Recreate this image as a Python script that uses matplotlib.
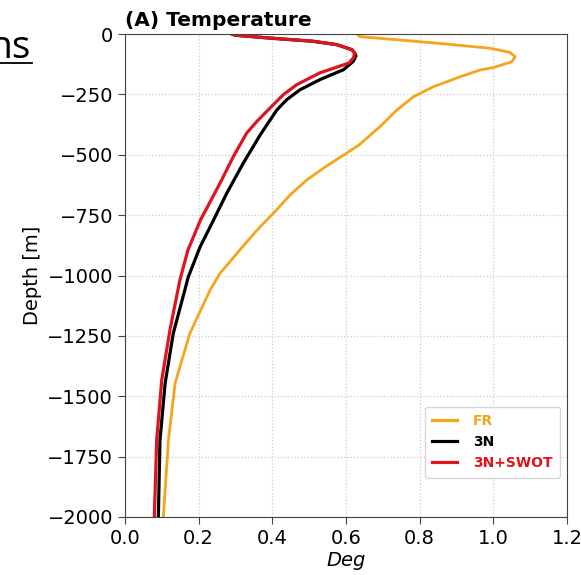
import matplotlib
matplotlib.use('Agg')
import matplotlib.pyplot as plt
from matplotlib.lines import Line2D

# RMS temperature error profiles (deg) against depth (m)
depth_fr = [0, -11, -25, -39, -59, -76, -94, -115, -139, -149, -177, -218, -260, -315, -384,
            -460, -487, -556, -605, -667, -742, -798, -846, -894, -991, -1060, -1240, -1446,
            -1681, -2000]
temp_fr = [0.629, 0.638, 0.747, 0.855, 0.991, 1.045, 1.059, 1.05, 1.0, 0.964, 0.91, 0.838,
           0.783, 0.738, 0.692, 0.635, 0.608, 0.538, 0.493, 0.448, 0.403, 0.367, 0.339, 0.312,
           0.258, 0.231, 0.176, 0.136, 0.118, 0.104]

depth_3n = [0, -5, -17, -30, -44, -65, -80, -91, -113, -148, -189, -231, -272, -315, -418,
            -535, -660, -784, -881, -1005, -1240, -1446, -1681, -2000]
temp_3n = [0.29, 0.299, 0.394, 0.51, 0.575, 0.616, 0.624, 0.627, 0.62, 0.593, 0.529, 0.475,
           0.439, 0.412, 0.367, 0.321, 0.276, 0.236, 0.204, 0.172, 0.131, 0.109, 0.095, 0.0905]

depth_swot = [0, -5, -17, -30, -44, -65, -79, -99, -120, -161, -210, -251, -306, -362, -411,
              -508, -618, -770, -894, -1019, -1226, -1433, -1681, -2000]
temp_swot = [0.29, 0.299, 0.394, 0.51, 0.575, 0.616, 0.624, 0.62, 0.608, 0.529, 0.466, 0.43,
             0.394, 0.358, 0.330, 0.294, 0.258, 0.205, 0.171, 0.149, 0.122, 0.0997, 0.086,
             0.0796]

series_names = ['FR', '3N', '3N+SWOT']
series_colors = ['#f5a51c', 'black', '#e0141c']

fig = plt.figure(figsize=(5.81, 5.75), dpi=100)
ax = fig.add_axes([125 / 581, 1 - 517 / 575, 442 / 581, 483 / 575])

ax.plot(temp_fr, depth_fr, color=series_colors[0], lw=2.0, solid_joinstyle='round')
ax.plot(temp_3n, depth_3n, color=series_colors[1], lw=2.3, solid_joinstyle='round')
ax.plot(temp_swot, depth_swot, color=series_colors[2], lw=2.3, solid_joinstyle='round')

ax.set_xlim(0, 1.2)
ax.set_ylim(-2000, 0)
ax.set_xticks([0.0, 0.2, 0.4, 0.6, 0.8, 1.0, 1.2])
ax.set_yticks([0, -250, -500, -750, -1000, -1250, -1500, -1750, -2000])
ax.grid(True, ls=':', color='#cccccc', lw=0.9)
ax.tick_params(labelsize=14, length=5, color='#444444')
for s in ax.spines.values():
    s.set_color('#444444')
ax.set_ylabel('Depth [m]', fontsize=14)
ax.set_xlabel('Deg', fontsize=14, style='italic', labelpad=2)
ax.set_title('(A) Temperature', loc='left', fontsize=14.5, fontweight='bold', pad=6)

handles = [Line2D([], [], color=c, lw=2.3) for c in series_colors]
leg = ax.legend(handles, series_names, loc='lower right',
                prop={'weight': 'bold', 'size': 10}, handlelength=1.8, handletextpad=1.1,
                borderpad=0.55, borderaxespad=0, bbox_to_anchor=(0.984, 0.081))
for txt, c in zip(leg.get_texts(), series_colors):
    txt.set_color(c)

# leftover slide heading fragment
fig.text(31 / 581, 1 - 58 / 575, 'ns', ha='right', va='baseline', fontsize=28,
         family='Open Sans', color='black')
fig.add_artist(Line2D([0, 32 / 581], [1 - 63 / 575, 1 - 63 / 575], color='black', lw=1.3,
                      transform=fig.transFigure))

fig.savefig('out.png', dpi=100)
